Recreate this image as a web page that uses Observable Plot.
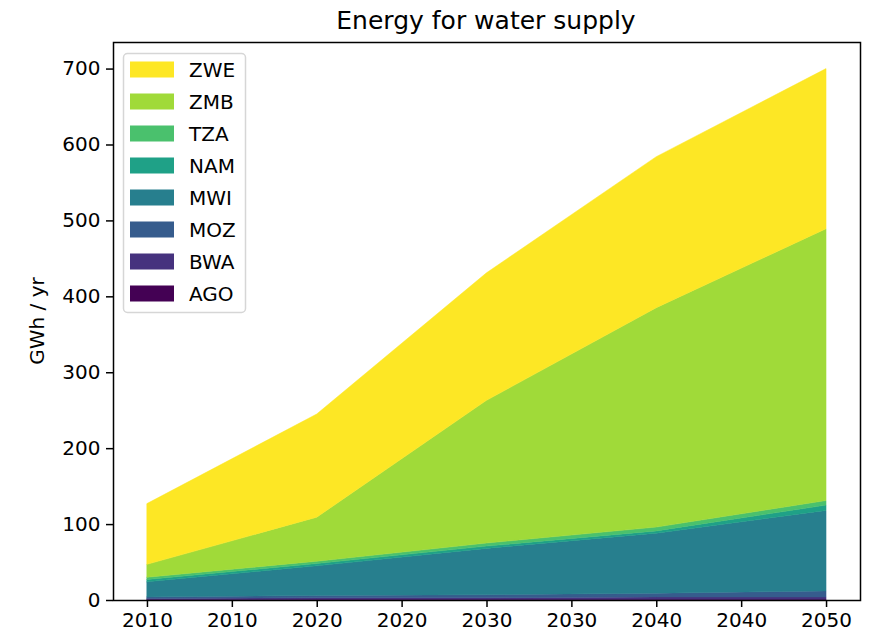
<!DOCTYPE html>
<html>
<head>
<meta charset="utf-8">
<script src="https://cdn.jsdelivr.net/npm/d3@7"></script>
<script src="https://cdn.jsdelivr.net/npm/@observablehq/plot@0.6"></script>
<style>
  body { margin: 0; background: #fff; }
  svg { font-family: "DejaVu Sans", sans-serif; }
</style>
</head>
<body>
<div id="chart"></div>
<script>
const years = [2010, 2020, 2030, 2040, 2050];
const countries = ["AGO", "BWA", "MOZ", "MWI", "NAM", "TZA", "ZMB", "ZWE"];
const colors = ["#440154", "#46327e", "#365c8d", "#277f8e", "#1fa187", "#4ac16d", "#a0da39", "#fde725"];
const AGO = [0.5, 1, 1, 1, 1];
const BWA = [1.5, 2, 2, 3, 3];
const MOZ = [2, 3, 4, 5, 8];
const MWI = [20, 39, 61, 79, 106];
const NAM = [3, 3, 3, 3, 7];
const TZA = [3, 3, 4, 5, 6];
const ZMB = [17, 58, 188, 289, 358];
const ZWE = [80, 136, 168, 199, 211];
const xTicks = [2010, 2015, 2020, 2025, 2030, 2035, 2040, 2045, 2050];
const xTickLabels = ["2010", "2010", "2020", "2020", "2030", "2030", "2040", "2040", "2050"];
const yTicks = [0, 100, 200, 300, 400, 500, 600, 700];

const series = {AGO, BWA, MOZ, MWI, NAM, TZA, ZMB, ZWE};
const data = [];
countries.forEach(c => years.forEach((y, i) => data.push({country: c, year: y, value: series[c][i]})));

const W = 873, H = 636;
const chart = Plot.plot({
  width: W,
  height: H,
  marginLeft: 113,
  marginRight: 13,
  marginTop: 42,
  marginBottom: 36,
  style: {fontFamily: "DejaVu Sans, sans-serif", fontSize: "20px", color: "#000", background: "#fff"},
  x: {domain: [2008, 2052]},
  y: {domain: [0, 735]},
  color: {domain: countries, range: colors},
  marks: [
    Plot.areaY(data, {x: "year", y: "value", fill: "country", order: countries, stroke: "country", strokeWidth: 0.5}),
    Plot.axisX({ticks: xTicks, tickFormat: (d) => xTickLabels[xTicks.indexOf(d)], label: null, tickSize: 7, tickPadding: 5, fontSize: 20, strokeWidth: 1.5}),
    Plot.axisY({ticks: yTicks, tickFormat: d => String(d), label: null, tickSize: 7, tickPadding: 6, fontSize: 20, strokeWidth: 1.5}),
    Plot.frame({stroke: "#000", strokeWidth: 1.5})
  ]
});
document.getElementById("chart").appendChild(chart);

const svg = d3.select(chart);
svg.append("text").attr("x", 486).attr("y", 29).attr("text-anchor", "middle")
  .attr("font-size", 25).attr("fill", "#000").text("Energy for water supply");
svg.append("text").attr("transform", "translate(44,321) rotate(-90)").attr("text-anchor", "middle")
  .attr("font-size", 20).attr("fill", "#000").text("GWh / yr");

// legend
const lg = svg.append("g");
lg.append("rect").attr("x", 123.5).attr("y", 53.5).attr("width", 122).attr("height", 259).attr("rx", 4)
  .attr("fill", "#fff").attr("fill-opacity", 0.8).attr("stroke", "#d6d6d6").attr("stroke-width", 1.5);
const legendOrder = countries.slice().reverse();
legendOrder.forEach((c, i) => {
  const cy = 69.5 + i * 32;
  lg.append("rect").attr("x", 130).attr("y", cy - 8).attr("width", 44).attr("height", 16)
    .attr("fill", colors[countries.indexOf(c)]);
  lg.append("text").attr("x", 189).attr("y", cy + 7).attr("text-anchor", "start")
    .attr("font-size", 20).attr("fill", "#000").text(c);
});
</script>
</body>
</html>
